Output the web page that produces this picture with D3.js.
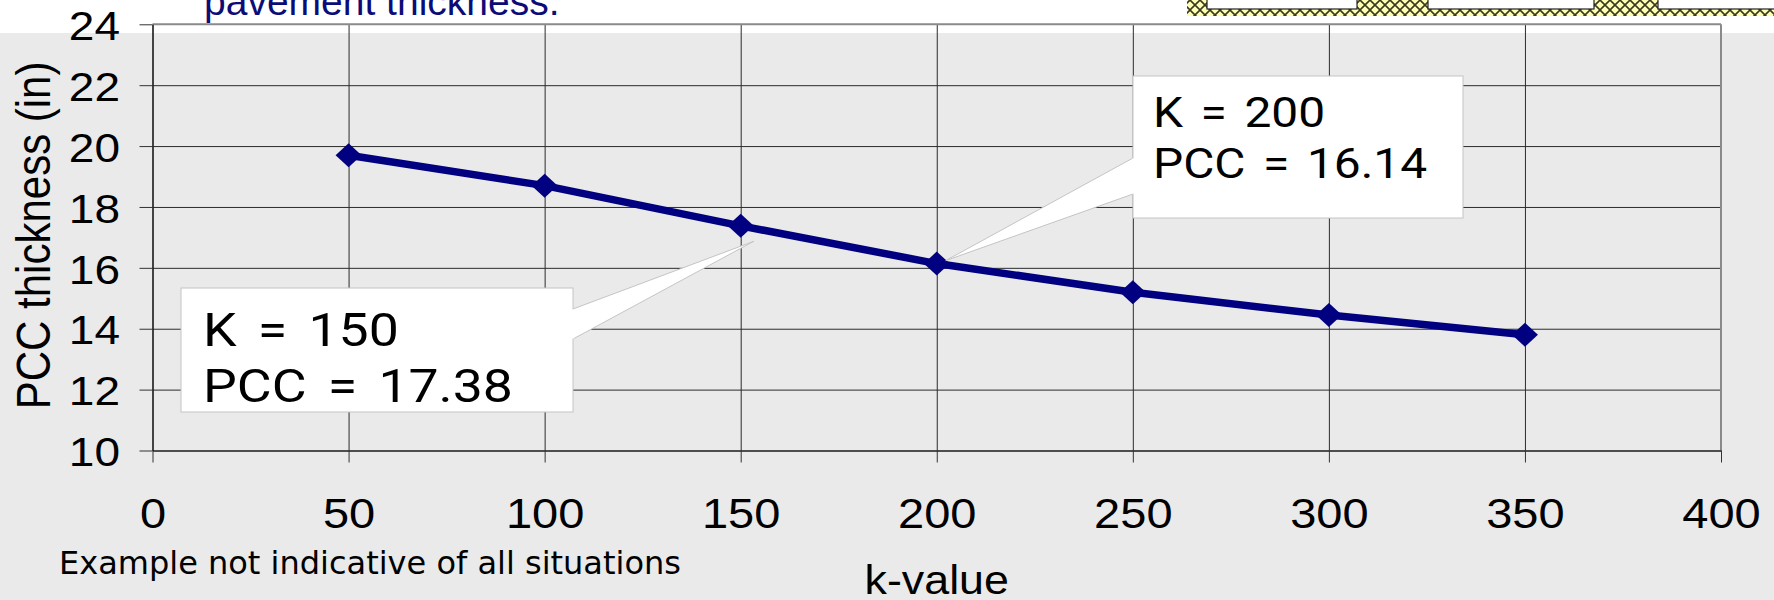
<!DOCTYPE html>
<html>
<head>
<meta charset="utf-8">
<script src="https://cdn.jsdelivr.net/npm/d3@7"></script>
<style>
  html, body { margin: 0; padding: 0; background: #eaeaea; }
  svg { display: block; }
</style>
</head>
<body>
<script>
// ---------- data ----------
const kValues = [50, 100, 150, 200, 250, 300, 350];
const pccThickness = [19.7, 18.7, 17.38, 16.14, 15.2, 14.45, 13.8];
const xTickValues = [0, 50, 100, 150, 200, 250, 300, 350, 400];
const yTickValues = [10, 12, 14, 16, 18, 20, 22, 24];
const calloutK = [150, 200];
const calloutLines = [["K = 150", "PCC = 17.38"], ["K = 200", "PCC = 16.14"]];
const xTitle = "k-value";
const yTitle = "PCC thickness (in)";
const noteText = "Example not indicative of all situations";
const topText = "pavement thickness.";

(function () {
// ---------- layout ----------
const W = 1774, H = 600;
const pLeft = 152.5, pRight = 1721, pTop = 24.3, pBottom = 450.5;
const SX = 1.15; // horizontal glyph stretch seen in the reference

function stretchX(sel, k) {
  sel.each(function () {
    const t = d3.select(this);
    const tx = +t.attr("x") || 0, ty = +t.attr("y") || 0;
    t.attr("transform", `translate(${tx},${ty}) scale(${k},1) translate(${-tx},${-ty})`);
  });
}

const svg = d3.select("body").append("svg").attr("width", W).attr("height", H);

const defs = svg.append("defs");
const pat = defs.append("pattern").attr("id", "hatch").attr("patternUnits", "userSpaceOnUse")
  .attr("width", 10).attr("height", 10);
pat.append("rect").attr("width", 10).attr("height", 10).attr("fill", "#ffffb4");
pat.append("path").attr("d", "M0,0 L10,10 M10,0 L0,10").attr("stroke", "#3a3a20").attr("stroke-width", 1.6);

// backgrounds
svg.append("rect").attr("x", 0).attr("y", 0).attr("width", W).attr("height", H).attr("fill", "#eaeaea");
svg.append("rect").attr("x", 0).attr("y", 0).attr("width", W).attr("height", 33).attr("fill", "#ffffff");

// cut-off title text at the top
svg.append("text").attr("x", 204).attr("y", 15)
  .attr("font-family", "'Liberation Sans', Arial, sans-serif").attr("font-size", 39)
  .attr("fill", "#0c0c78").text(topText);

// hatched strip top right
svg.append("rect").attr("x", 1187).attr("y", 0).attr("width", W - 1187).attr("height", 16).attr("fill", "url(#hatch)");
[[1207, 1357], [1428, 1594], [1658, 1790]].forEach(([a, b]) => {
  svg.append("rect").attr("x", a).attr("y", -2).attr("width", b - a).attr("height", 11)
    .attr("fill", "#ffffff").attr("stroke", "#222").attr("stroke-width", 1.2);
});

// scales
const x = d3.scaleLinear().domain([0, 400]).range([pLeft, pRight]);
const y = d3.scaleLinear().domain([10, 24]).range([pBottom, pTop]);

const axisFont = "'Liberation Sans', Arial, sans-serif";

// gridlines
const gx = svg.append("g").attr("transform", `translate(0,${pBottom})`)
  .call(d3.axisBottom(x).tickValues(xTickValues.filter(v => v > 0 && v < 400)).tickSize(-(pBottom - pTop)).tickFormat(""));
gx.select(".domain").remove();
gx.selectAll("line").attr("stroke", "#2b2b2b").attr("stroke-width", 1);

const gy = svg.append("g").attr("transform", `translate(${pLeft},0)`)
  .call(d3.axisLeft(y).tickValues(yTickValues.filter(v => v > 10 && v < 24)).tickSize(-(pRight - pLeft)).tickFormat(""));
gy.select(".domain").remove();
gy.selectAll("line").attr("stroke", "#2b2b2b").attr("stroke-width", 1);

// frame (top & right)
svg.append("line").attr("x1", pLeft).attr("x2", pRight).attr("y1", pTop).attr("y2", pTop)
  .attr("stroke", "#8a8a8a").attr("stroke-width", 2);
svg.append("line").attr("x1", pRight).attr("x2", pRight).attr("y1", pTop).attr("y2", pBottom)
  .attr("stroke", "#8a8a8a").attr("stroke-width", 2);

// axes
const ax = svg.append("g").attr("transform", `translate(0,${pBottom})`)
  .call(d3.axisBottom(x).tickValues(xTickValues).tickSizeInner(12).tickSizeOuter(0).tickPadding(35.2));
ax.select(".domain").attr("stroke", "#1a1a1a").attr("stroke-width", 1.6);
ax.selectAll(".tick line").attr("stroke", "#333");
ax.selectAll("text").attr("font-family", axisFont).attr("font-size", 42).attr("fill", "#000");
stretchX(ax.selectAll("text"), 1.12);

const ay = svg.append("g").attr("transform", `translate(${pLeft},0)`)
  .call(d3.axisLeft(y).tickValues(yTickValues).tickSizeInner(13).tickSizeOuter(0).tickPadding(19.5));
ay.select(".domain").attr("stroke", "#1a1a1a").attr("stroke-width", 1.6);
ay.selectAll(".tick line").attr("stroke", "#333");
ay.selectAll("text").attr("font-family", axisFont).attr("font-size", 40).attr("fill", "#000").attr("dy", "0.38em");
stretchX(ay.selectAll("text"), SX);

// axis titles
const xt = svg.append("text").attr("x", (pLeft + pRight) / 2).attr("y", 594).attr("text-anchor", "middle")
  .attr("font-family", axisFont).attr("font-size", 40).attr("fill", "#000").text(xTitle);
stretchX(xt, 1.12);
svg.append("text").attr("transform", `translate(50,${(pTop + pBottom) / 2 - 2}) scale(${SX},1) rotate(-90)`).attr("text-anchor", "middle")
  .attr("font-family", axisFont).attr("font-size", 42).attr("fill", "#000").text(yTitle);

// note
svg.append("text").attr("x", 59).attr("y", 574)
  .attr("font-family", "'DejaVu Sans', Verdana, sans-serif").attr("font-size", 32).attr("fill", "#000").text(noteText);

// series
const pts = kValues.map((k, i) => [k, pccThickness[i]]);
svg.append("path").datum(pts)
  .attr("d", d3.line().x(d => x(d[0])).y(d => y(d[1])))
  .attr("fill", "none").attr("stroke", "#000080").attr("stroke-width", 7.5).attr("stroke-linejoin", "round");
const rx = 13, ry = 12;
svg.append("g").selectAll("path").data(pts).join("path")
  .attr("transform", d => `translate(${x(d[0])},${y(d[1])})`)
  .attr("d", `M0,${-ry} L${rx},0 L0,${ry} L${-rx},0 Z`)
  .attr("fill", "#000080");

// callouts
const calloutStyle = [
  { box: [181, 288, 573, 412], base: [573, 309, 573, 339], tipOff: [13, 15.5], tx: 203, ty: [346, 402], fs: 47, ws: 7, sx: 1.14 },
  { box: [1133, 76, 1463, 218], base: [1133, 158, 1133, 194], tipOff: [9, -3], tx: 1153, ty: [127, 178], fs: 42, ws: 5, sx: 1.14 }
];
calloutK.forEach((k, i) => {
  const s = calloutStyle[i];
  const v = pccThickness[kValues.indexOf(k)];
  const tip = [x(k) + s.tipOff[0], y(v) + s.tipOff[1]];
  const [x0, y0, x1, y1] = s.box;
  const g = svg.append("g");
  g.append("rect").attr("x", x0).attr("y", y0).attr("width", x1 - x0).attr("height", y1 - y0)
    .attr("fill", "#fff").attr("stroke", "#c4c4c4").attr("stroke-width", 1);
  const [bx0, by0, bx1, by1] = s.base;
  g.append("path").attr("d", `M${bx0},${by0} L${tip[0]},${tip[1]} L${bx1},${by1}`)
    .attr("fill", "#fff").attr("stroke", "#c4c4c4").attr("stroke-width", 1);
  g.append("line").attr("x1", bx0).attr("x2", bx1).attr("y1", by0 + 0.5).attr("y2", by1 - 0.5)
    .attr("stroke", "#fff").attr("stroke-width", 2);
  calloutLines[i].forEach((t, j) => {
    const te = g.append("text").attr("x", s.tx).attr("y", s.ty[j])
      .attr("font-family", "Roboto, 'Noto Sans', sans-serif").attr("font-size", s.fs)
      .attr("word-spacing", s.ws).attr("fill", "#000").text(t);
    stretchX(te, s.sx);
  });
});
})();
</script>
</body>
</html>
